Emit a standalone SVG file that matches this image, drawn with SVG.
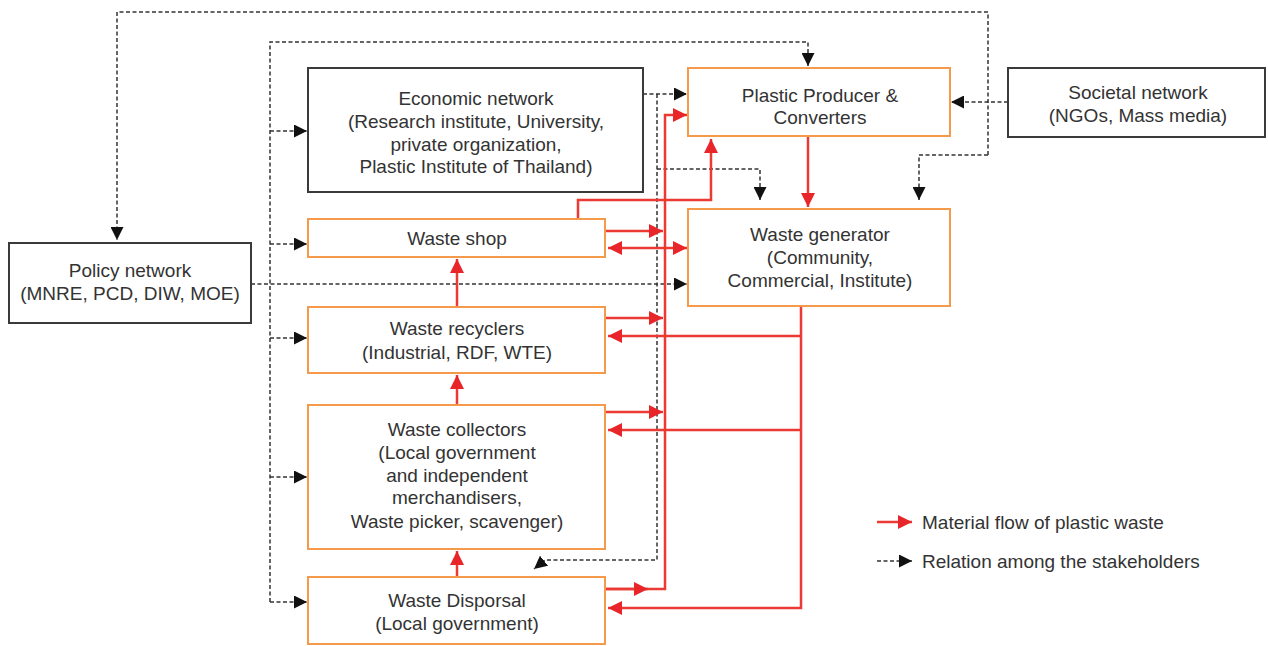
<svg xmlns="http://www.w3.org/2000/svg" width="1268" height="646" viewBox="0 0 1268 646">
<defs>
<style>
.t{font-family:"Liberation Sans",Arial,sans-serif;font-size:19px;fill:#333;text-anchor:middle}
.bk{fill:#fff;stroke:#3a3a3a;stroke-width:2}
.or{fill:#fff;stroke:#f49a4a;stroke-width:2}
.d{fill:none;stroke:#333;stroke-width:1.5;stroke-dasharray:4 2.5}
.r{fill:none;stroke:#ea3a33;stroke-width:2.5}
</style>
<marker id="ab" viewBox="0 0 12 12" markerWidth="13" markerHeight="13" refX="12" refY="6" orient="auto" markerUnits="userSpaceOnUse"><path d="M0,0 L12,6 L0,12 z" fill="#111"/></marker>
<marker id="ar" viewBox="0 0 12 12" markerWidth="14" markerHeight="14" refX="12" refY="6" orient="auto" markerUnits="userSpaceOnUse"><path d="M0,0 L12,6 L0,12 z" fill="#e8262a"/></marker>
<marker id="arS" viewBox="0 0 12 12" markerWidth="14" markerHeight="14" refX="0" refY="6" orient="auto" markerUnits="userSpaceOnUse"><path d="M12,0 L0,6 L12,12 z" fill="#e8262a"/></marker>
</defs>
<rect width="1268" height="646" fill="#fff"/>

<g id="connectors">
<!-- dashed relations -->
<path class="d" d="M988,155 V12 H117 V240" marker-end="url(#ab)"/>
<path class="d" d="M988,155 H919 V200" marker-end="url(#ab)"/>
<path class="d" d="M1008,102 H951" marker-end="url(#ab)"/>
<path class="d" d="M270,602 V42 H808 V66" marker-end="url(#ab)"/>
<path class="d" d="M270,131 H307" marker-end="url(#ab)"/>
<path class="d" d="M270,244 H307" marker-end="url(#ab)"/>
<path class="d" d="M270,338 H307" marker-end="url(#ab)"/>
<path class="d" d="M270,477 H307" marker-end="url(#ab)"/>
<path class="d" d="M270,602 H307" marker-end="url(#ab)"/>
<path class="d" d="M251,284 H687" marker-end="url(#ab)"/>
<path class="d" d="M643,94 H687" marker-end="url(#ab)"/>
<path class="d" d="M657,94 V560 H545 L534,569" marker-end="url(#ab)"/>
<path class="d" d="M657,169 H760 V200" marker-end="url(#ab)"/>
<!-- red material flows -->
<path class="r" d="M808,137 V207" marker-end="url(#ar)"/>
<path class="r" d="M578,218 V200 H711 V139" marker-end="url(#ar)"/>
<path class="r" d="M606,589 H665 V115 H687" marker-end="url(#ar)"/>
<path class="r" d="M606,231 H663" marker-end="url(#ar)"/>
<path class="r" d="M608,248 H687" marker-start="url(#arS)" marker-end="url(#ar)"/>
<path class="r" d="M606,318 H663" marker-end="url(#ar)"/>
<path class="r" d="M606,412 H663" marker-end="url(#ar)"/>
<path class="r" d="M606,589 H648" marker-end="url(#ar)"/>
<path class="r" d="M801,307 V608 H608" marker-end="url(#ar)"/>
<path class="r" d="M801,336 H608" marker-end="url(#ar)"/>
<path class="r" d="M801,430 H608" marker-end="url(#ar)"/>
<path class="r" d="M457,306 V259" marker-end="url(#ar)"/>
<path class="r" d="M457,404 V375" marker-end="url(#ar)"/>
<path class="r" d="M457,576 V551" marker-end="url(#ar)"/>
</g>

<g id="policy"><rect class="bk" x="9" y="243" width="242" height="80"/>
<text class="t" x="130" y="277">Policy network</text><text class="t" x="130" y="300">(MNRE, PCD, DIW, MOE)</text></g>

<g id="economic"><rect class="bk" x="308" y="68" width="335" height="124"/>
<text class="t" x="476" y="105">Economic network</text><text class="t" x="476" y="128">(Research institute, University,</text><text class="t" x="476" y="151">private organization,</text><text class="t" x="476" y="173">Plastic Institute of Thailand)</text></g>

<g id="producer"><rect class="or" x="688" y="68" width="262" height="68"/>
<text class="t" x="820" y="102">Plastic Producer &amp;</text><text class="t" x="820" y="124">Converters</text></g>

<g id="societal"><rect class="bk" x="1008" y="68" width="257" height="69"/>
<text class="t" x="1138" y="99">Societal network</text><text class="t" x="1138" y="122">(NGOs, Mass media)</text></g>

<g id="shop"><rect class="or" x="308" y="219" width="297" height="38"/>
<text class="t" x="457" y="245">Waste shop</text></g>

<g id="generator"><rect class="or" x="688" y="209" width="262" height="97"/>
<text class="t" x="820" y="241">Waste generator</text><text class="t" x="820" y="264">(Community,</text><text class="t" x="820" y="287">Commercial, Institute)</text></g>

<g id="recyclers"><rect class="or" x="308" y="307" width="297" height="66"/>
<text class="t" x="457" y="335">Waste recyclers</text><text class="t" x="457" y="359">(Industrial, RDF, WTE)</text></g>

<g id="collectors"><rect class="or" x="308" y="405" width="297" height="144"/>
<text class="t" x="457" y="436">Waste collectors</text><text class="t" x="457" y="459">(Local government</text><text class="t" x="457" y="482">and independent</text><text class="t" x="457" y="504">merchandisers,</text><text class="t" x="457" y="528">Waste picker, scavenger)</text></g>

<g id="disposal"><rect class="or" x="308" y="577" width="297" height="67"/>
<text class="t" x="457" y="607">Waste Disporsal</text><text class="t" x="457" y="630">(Local government)</text></g>

<g id="legend">
<path class="r" d="M877,522 H912" marker-end="url(#ar)"/>
<text class="t" x="922" y="529" style="text-anchor:start">Material flow of plastic waste</text>
<path class="d" d="M877,561 H912" marker-end="url(#ab)"/>
<text class="t" x="922" y="568" style="text-anchor:start">Relation among the stakeholders</text>
</g>
</svg>
